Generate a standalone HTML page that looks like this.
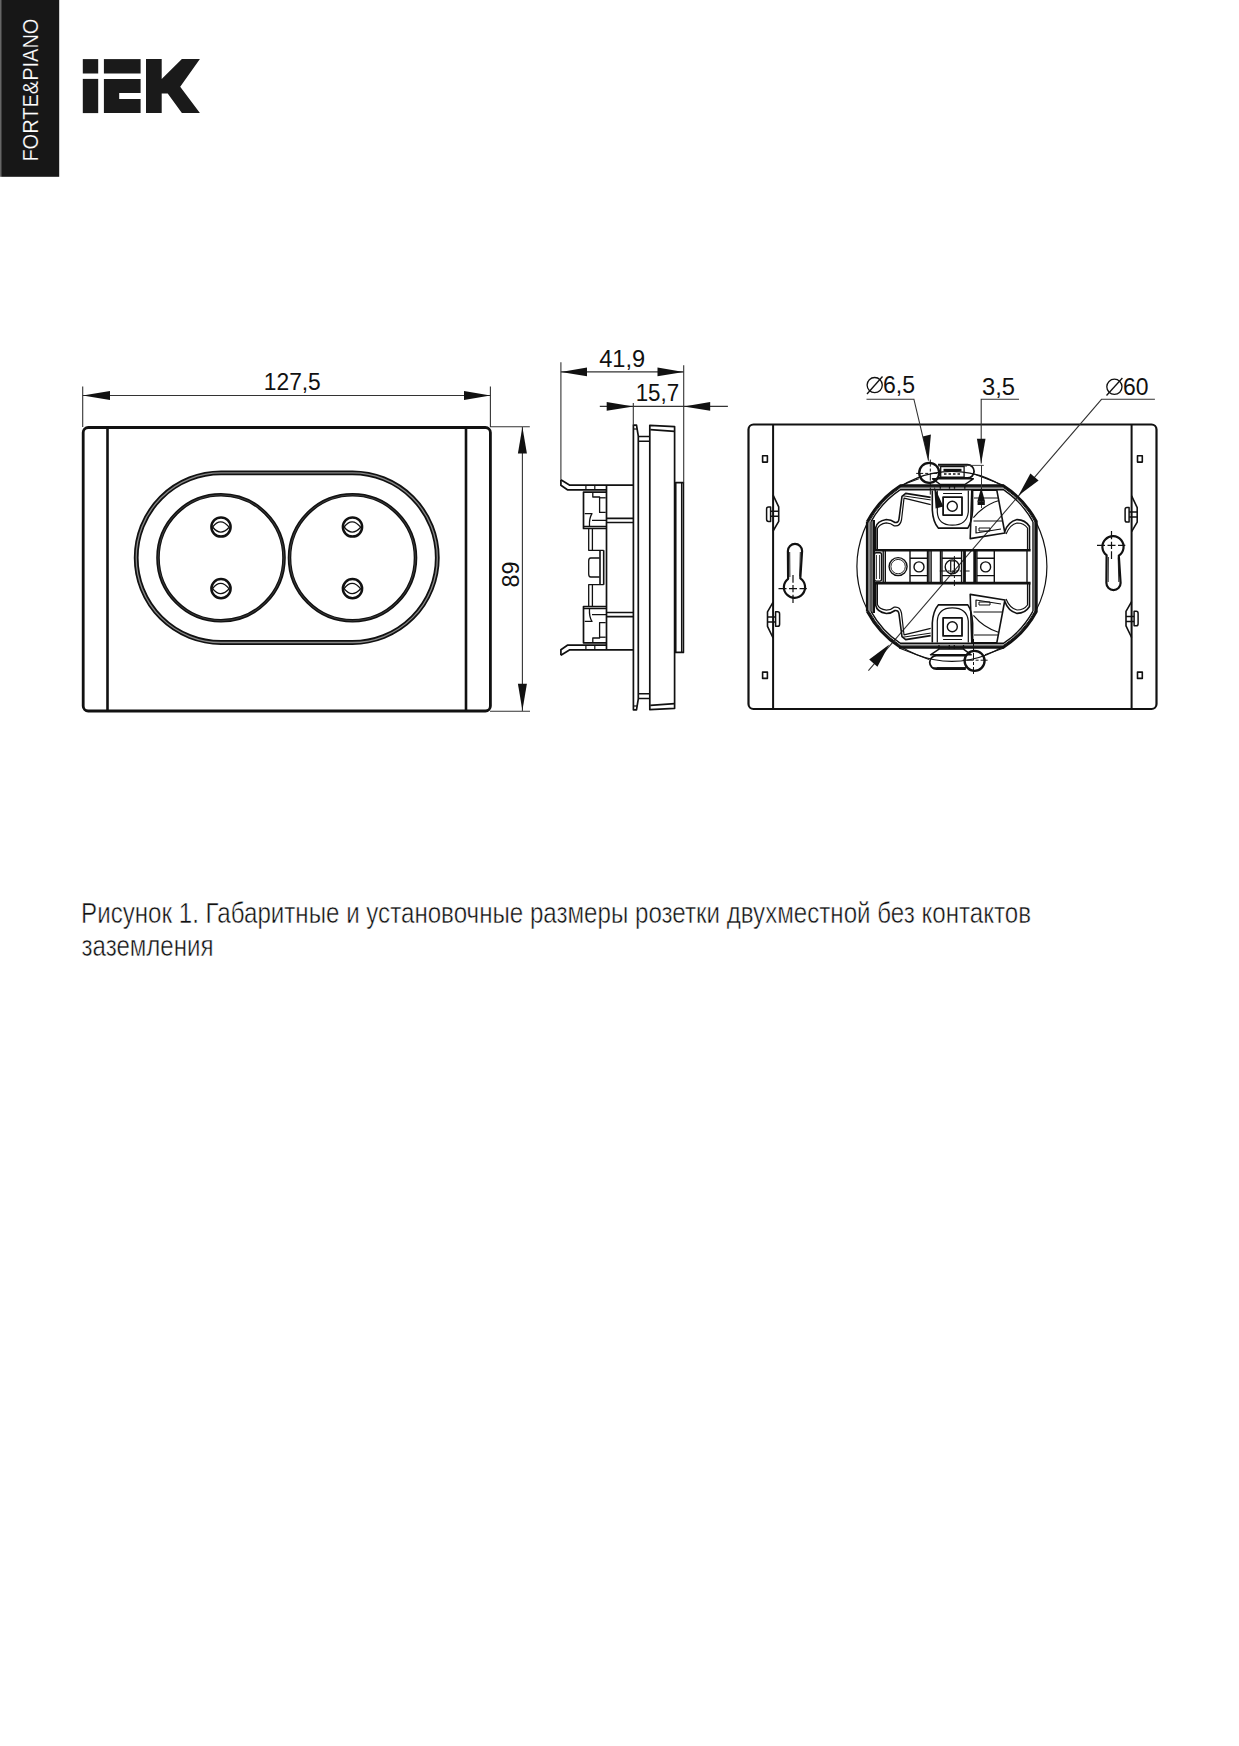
<!DOCTYPE html>
<html><head><meta charset="utf-8">
<style>
html,body{margin:0;padding:0;background:#fff;}
body{width:1239px;height:1746px;position:relative;overflow:hidden;font-family:"Liberation Sans",sans-serif;}
svg{position:absolute;left:0;top:0;}
</style></head><body>
<svg width="1239" height="1746" viewBox="0 0 1239 1746" font-family="Liberation Sans, sans-serif">
<!-- header -->
<rect x="0" y="0" width="1.2" height="176.8" fill="#666"/>
<rect x="1.2" y="0" width="58" height="176.8" fill="#171717"/>
<text transform="translate(38.2,161.6) rotate(-90)" font-size="21.8" fill="#fff" stroke="#171717" stroke-width="0.2" textLength="143" lengthAdjust="spacingAndGlyphs">FORTE&amp;PIANO</text>
<g fill="#1a1a1a">
<rect x="82.8" y="59.1" width="15.4" height="14.4"/>
<rect x="82.8" y="78.9" width="15.4" height="34.2"/>
<rect x="103.9" y="59.1" width="36.7" height="14.4"/>
<path d="M103.9,78.9H140.6V93H119.2V99H140.6V113.1H103.9Z"/>
<path d="M146,59.1H161.7V78.9L181.9,59.1H199.9L180.2,86.8L199.9,113.1H181.9L167.7,93.6H161.7V113.1H146Z"/>
</g>

<!-- FRONT VIEW -->
<g id="front" fill="none" stroke="#111">
<rect x="83.2" y="427.5" width="407.2" height="283.5" rx="5" stroke-width="2.8"/>
<line x1="107.5" y1="427.5" x2="107.5" y2="711" stroke-width="2.6"/>
<line x1="466" y1="427.5" x2="466" y2="711" stroke-width="2.6"/>
<path d="M221,472.9H352.5A84.8,84.8 0 0 1 352.5,642.5H221A84.8,84.8 0 0 1 221,472.9Z" stroke-width="4.8"/>
<path d="M221,472.9H352.5A84.8,84.8 0 0 1 352.5,642.5H221A84.8,84.8 0 0 1 221,472.9Z" stroke-width="1.3" stroke="#888"/>
<circle cx="221" cy="557.8" r="63" stroke-width="3.6"/>
<circle cx="352.5" cy="557.8" r="63" stroke-width="3.6"/>
<circle cx="221" cy="557.8" r="63" stroke-width="0.6" stroke="#555"/>
<circle cx="352.5" cy="557.8" r="63" stroke-width="0.6" stroke="#555"/>
<g id="pin">
<circle cx="221" cy="527" r="9.6" stroke-width="2.5"/>
<path d="M212.6,527Q220.5,516.5 229.2,527.2Q220.5,537 212.6,527Z" stroke-width="1.3"/>
</g>
<use href="#pin" transform="translate(0,61.6)"/>
<use href="#pin" transform="translate(131.5,0)"/>
<use href="#pin" transform="translate(131.5,61.6)"/>
</g>
<!-- front dims -->
<g stroke="#333" stroke-width="1.1" fill="none">
<line x1="82.7" y1="386.6" x2="82.7" y2="427"/>
<line x1="490.4" y1="386.5" x2="490.4" y2="427"/>
<line x1="82.7" y1="395.5" x2="490.4" y2="395.5"/>
<line x1="490" y1="426.8" x2="529.8" y2="426.8"/>
<line x1="490" y1="711.3" x2="530" y2="711.3"/>
<line x1="522.4" y1="427" x2="522.4" y2="711"/>
</g>
<g fill="#111">
<path d="M82.7,395.5L110,391.1V399.9Z"/>
<path d="M490.4,395.5L464,391.1V399.9Z"/>
<path d="M522.4,427L517.9,453.6H526.9Z"/>
<path d="M522.4,710.5L517.9,683.7H526.9Z"/>
<text x="263.8" y="389.8" font-size="23" textLength="57" lengthAdjust="spacingAndGlyphs">127,5</text>
<text transform="translate(519.2,587.6) rotate(-90)" font-size="23.5" textLength="26" lengthAdjust="spacingAndGlyphs">89</text>
</g>


<!-- SIDE VIEW -->
<g id="side" fill="none" stroke="#111" stroke-width="1.7" stroke-linejoin="round">
<g id="sideTop">
<path d="M560.9,479.7L569.8,485.2H633.4"/>
<path d="M560.9,479.7V485.3L567.4,489.8H606.5"/>
<path d="M585.9,485.3V489.8M594.8,485.3V489.8" stroke-width="1.2"/>
<path d="M606.5,518.4H633.4M606.5,522.5H633.4"/>
<path d="M606.5,492.2H583.5V528.5H606.5"/>
<path d="M592.8,492.2V497H599.6V512.4H605.7" stroke-width="1.3"/>
<path d="M599.6,497.8H605.7" stroke-width="1.3"/>
<path d="M584.7,513.6H592Q589,518 589.5,526.5" stroke-width="1.3"/>
<path d="M592,520.4H606.5M583.5,526.5H606.5" stroke-width="1.3"/>
<path d="M588.7,528.5V550.3H603.7M592.4,528.5V550.3" stroke-width="1.3"/>
<path d="M633.4,429H637" stroke-width="1.2"/>
<path d="M638.3,436.5H649.8M638.3,441.2H649.8" stroke-width="1.5"/>
<path d="M650.3,429.6L674.6,431.4"/>
</g>
<use href="#sideTop" transform="translate(0,1135) scale(1,-1)"/>
<path d="M606.5,485.3V649.7"/>
<path d="M600,550.3V584.7M603.7,550.3V584.7" stroke-width="1.6"/>
<path d="M599.6,558H590.7Q588.7,558 588.7,561V574Q588.7,577 590.7,577H599.6" stroke-width="1.3"/>
<path d="M633.4,709.8V425.2H636.5L638.3,436.1V698.9L636.5,709.8Z"/>
<path d="M649.8,709.7V425.3L674.6,426.6V708.4Z"/>
<path d="M675.7,652.4V482.6H683.4V652.4Z"/>
<path d="M681.6,482.6V652.4" stroke-width="1.3"/>

</g>
<g stroke="#333" stroke-width="1.1" fill="none">
<line x1="560.9" y1="362.2" x2="560.9" y2="479.7"/>
<line x1="683.7" y1="365.3" x2="683.7" y2="482.6"/>
<line x1="633.3" y1="402.9" x2="633.3" y2="425.2"/>
<line x1="560.9" y1="371.9" x2="683.7" y2="371.9"/>
<line x1="599.8" y1="406.4" x2="727.9" y2="406.4"/>
</g>
<g fill="#111">
<path d="M560.9,371.9L587,367.5V376.3Z"/>
<path d="M683.7,371.9L657.5,367.5V376.3Z"/>
<path d="M633.4,406.4L606.7,402V410.8Z"/>
<path d="M683.7,406.4L710.2,402V410.8Z"/>
<text x="599.2" y="366.8" font-size="23" textLength="46" lengthAdjust="spacingAndGlyphs">41,9</text>
<text x="635.7" y="400.6" font-size="23" textLength="43.5" lengthAdjust="spacingAndGlyphs">15,7</text>
</g>


<!-- REAR VIEW -->
<g id="rear" fill="none" stroke="#111" stroke-width="2" stroke-linejoin="round">
<rect x="748.5" y="424.5" width="408" height="284.5" rx="5" stroke-width="2.2"/>
<path d="M773.1,424.5V709M1131.6,424.5V709"/>
<g stroke-width="1.6">
<rect x="762.6" y="455.8" width="4.8" height="6.3"/>
<rect x="762.6" y="672.1" width="4.8" height="6.3"/>
<rect x="1137.5" y="455.8" width="4.8" height="6.3"/>
<rect x="1137.5" y="672.1" width="4.8" height="6.3"/>
</g>
<g id="clipUL" stroke-width="1.6">
<path d="M773.1,495.2L778.7,506.9V521.4L773.1,531"/>
<path d="M770.6,511.2H778.7M770.6,516.2H778.7" stroke-width="1.5"/>
<path d="M770.6,506.9H768.5Q766.6,506.9 766.6,509V519.3Q766.6,521.4 768.5,521.4H770.6V506.9Z" stroke-width="1.5"/>
</g>
<use href="#clipUL" transform="translate(358.5,0.7)"/>
<use href="#clipUL" transform="rotate(180,773.1,566.6)"/>
<use href="#clipUL" transform="translate(358.5,-0.5) rotate(180,773.1,566.6)"/>
<!-- keyholes -->
<g id="keyR">
<path d="M1106.6,555.2A10.6,10.6 0 1 1 1118.8,555.6L1120.6,583A7.1,7.1 0 0 1 1106.4,583Z" stroke-width="2.2"/>
<path d="M1108.4,557L1108.2,582M1118.2,557.5L1118.8,582" stroke-width="0.9"/>
<path d="M1097,545.3H1105M1107.5,545.3H1115.5M1118,545.3H1125.3M1111.5,531V539.2M1111.5,541.8V549M1111.5,551.2V559.1" stroke-width="1.2"/>
</g>
<use href="#keyR" transform="translate(-318.5,1134) scale(1,-1)"/>
<circle cx="951.9" cy="566.4" r="95" stroke-width="1.2"/>
</g>
<g stroke="#333" stroke-width="1.1" fill="none">
<path d="M866.5,399.2H913.9L928.5,460.7"/>
<path d="M1019,399.3H981.2V463.4"/>
<path d="M1154.9,399.3H1101.5L868.4,670.7"/>
</g>
<g fill="#111">
<path d="M928.5,460.7L922.8,436.6L930.9,434.6Z"/>
<path d="M981.2,463.4L976.9,438.8H985.5Z"/>
<path d="M1018.5,495.6L1030.4,473.5L1038.6,480.6Z"/>
<path d="M889.3,644.6L877.4,666.7L869.2,659.6Z" transform="translate(0,0)"/>
<text x="883" y="393.4" font-size="23" textLength="32" lengthAdjust="spacingAndGlyphs">6,5</text>
<text x="982" y="395.1" font-size="23" textLength="33" lengthAdjust="spacingAndGlyphs">3,5</text>
<text x="1123" y="394.7" font-size="23" textLength="25.5" lengthAdjust="spacingAndGlyphs">60</text>
</g>
<g fill="none" stroke="#111" stroke-width="1.3">
<circle cx="874.7" cy="385.1" r="7.6"/><line x1="867" y1="394" x2="882.5" y2="376.5"/>
<circle cx="1114.4" cy="386.8" r="7.6"/><line x1="1106.5" y1="395.5" x2="1122.4" y2="378"/>
</g>


<!-- REAR CENTER -->
<g id="rc" fill="none" stroke="#111" stroke-linejoin="round">
<g id="rcTop">
<!-- housing band -->
<path d="M899.9,485.7H1003.9A96,96 0 0 1 1036.5,521" stroke-width="2.2"/>
<path d="M900,489.8H1003.8A92.5,92.5 0 0 1 1033,521.9" stroke-width="1.4"/>
<path d="M1004,487.9A94.2,94.2 0 0 1 1035,522" stroke-width="1"/>
<path d="M1003.9,485.7H899.9A96,96 0 0 0 867,521.6" stroke-width="2.2"/>
<path d="M900,489.8A92.5,92.5 0 0 0 871,521.6" stroke-width="1.4"/>
<path d="M899.8,487.9H1004M899.8,487.9A94.2,94.2 0 0 0 869,521.7" stroke-width="1"/>
<!-- left wave -->
<path d="M875.8,549.5V527.5Q877,521 886.3,519.5Q891,519.5 895,522.5Q898.5,523 899,519L902,496.4L905.7,493.4L930.7,497.4" stroke-width="1.6"/>
<path d="M877.4,549.5V528.5Q879,524 886.3,522.8Q891,523 894,525.8Q900,527 901.5,520L904,498.2L930.7,504.7" stroke-width="1.2"/>
<path d="M903,495.8L930.7,499.9" stroke-width="1"/>
<!-- right wave -->
<path d="M1004.9,531.5Q1008,522 1017,519.6Q1025,519.5 1029.5,526.5V549.5" stroke-width="1.6"/>
<path d="M1006,534Q1010,524.5 1017,523Q1024,523 1027.5,528V549.5" stroke-width="1.2"/>
<!-- U holder -->
<path d="M932.3,490.4V510Q933,522 938.3,528.1H967.8Q972,522 972.6,510V490.4" stroke-width="1.6"/>
<path d="M937.3,490.4V512Q938,525.2 952.3,525.2Q967,525.2 968.3,512V490.4" stroke-width="1.2"/>
<rect x="943.1" y="497.1" width="18.9" height="18" stroke-width="1.8"/>
<path d="M943.1,493.5H962" stroke-width="1"/>
<circle cx="952.3" cy="506.3" r="5" stroke-width="1.4"/>
<!-- slanted contact -->
<path d="M971.8,490.2H996.8L1004.9,533L970.2,538.6Z" stroke-width="1.6"/>
<path d="M973.4,517.6Q984,505 999,500.5M973.5,521H1002M974,498H998M976,526V533L1001,529" stroke-width="1.2"/>
<path d="M979,528H990V531H979Z" stroke-width="1"/>
</g>
<use href="#rcTop" transform="translate(0,1133) scale(1,-1)"/>
<path d="M1036.5,521V612M867,521.6V611.4" stroke-width="2.2"/>
<path d="M1033,521.9V611.1M871,521.6V611.4" stroke-width="1.4"/>
<path d="M1035,522V611M869,521.7V611.3" stroke-width="1"/>
<path d="M873.7,520V613M1036,520V613" stroke-width="2.6"/>

<g id="rcTab">
<path d="M938,464.6H967.4A6.7,6.7 0 0 1 967.4,478H938" stroke-width="1.8"/>
<path d="M938,466H967" stroke-width="0.9"/>
<path d="M932.6,478.8H973.3L964.8,484.5H940.3Z" stroke-width="1.5"/>
<path d="M940.3,484.5V488.7M964.8,484.5V488.7M949.5,484.5V488.7M954.5,484.5V488.7" stroke-width="1.3"/>
<path d="M918.8,478.8L900,485.7M974.8,474.2L1004.7,485.7" stroke-width="1.1"/>
<circle cx="929.2" cy="472.8" r="10" stroke-width="2.3"/>
<path d="M916.2,473.4H941M930.3,459.6V494.9" stroke-width="1" stroke-dasharray="7,2,3,2"/>
</g>
<g stroke-width="1.3">
<rect x="940.7" y="466.5" width="23.4" height="10.7"/>
<path d="M943.5,470H961.5" stroke-width="2.4"/>
<path d="M944,474H961" stroke-width="1.6" stroke-dasharray="2.5,2"/>
</g>
<use href="#rcTab" transform="translate(0,0.8) rotate(180,951.9,566.4)"/>
<path d="M932,667.8H966" stroke-width="1"/>
<!-- strip -->
<path d="M873,550.2H1030.6" stroke-width="2.6"/>
<path d="M873,583.1H1030.6" stroke-width="2.6"/>
<g stroke-width="1.4">
<rect x="874.5" y="552.8" width="7" height="28.3" rx="1.5"/>
<path d="M876.5,555V579M879.5,555V579" stroke-width="0.8"/>
<path d="M883.2,550.2V583.1M885.3,550.2V583.1"/>
<circle cx="898.1" cy="566.6" r="9"/>
<circle cx="898.1" cy="566.6" r="7.2" stroke-width="0.9"/>
<rect x="910" y="550.2" width="17.5" height="32.9"/>
<path d="M910,558.2H927.5M910,575.6H927.5"/>
<circle cx="919" cy="566.9" r="5"/>
<path d="M928.9,550.2V583.1M931.1,550.2V583.1M940.5,550.2V583.1"/>
<rect x="942" y="550.2" width="19.6" height="32.9"/>
<path d="M942,558.2H961.6M942,575.6H961.6"/>
<circle cx="952.2" cy="566.9" r="7"/>
<rect x="950.7" y="561" width="3.7" height="11" stroke-width="1.2"/>
<path d="M963.8,550.2V583.1M965.2,550.2V583.1M974,550.2V583.1M975.4,550.2V583.1"/>
<rect x="976.9" y="550.2" width="17.4" height="32.9"/>
<path d="M976.9,558.2H994.3M976.9,575.6H994.3"/>
<circle cx="985.6" cy="566.9" r="5"/>
<path d="M1027,550.2V583.1"/>
</g>
<path d="M939.8,571H969.6M954.4,556V586.5" stroke-width="1" stroke-dasharray="6,2,2,2"/>
<path d="M981.5,465.4V508" stroke="#333" stroke-width="1"/>
<path d="M938.7,465.4H983.8" stroke="#333" stroke-width="0.9"/>
</g>
<g fill="#111">
<path d="M981.2,487.5L977.3,501.8H985.1Z"/>
<rect x="977.6" y="501.5" width="7.2" height="3.5"/>
<path d="M934.2,486.5L943.4,506.5L935.6,508.4Z"/>
</g>

<!-- caption -->
<text x="81.1" y="922.6" font-size="29" fill="#111" stroke="#fff" stroke-width="0.5" textLength="950" lengthAdjust="spacingAndGlyphs">Рисунок 1. Габаритные и установочные размеры розетки двухместной без контактов</text>
<text x="81.5" y="956" font-size="29" fill="#111" stroke="#fff" stroke-width="0.5" textLength="132" lengthAdjust="spacingAndGlyphs">заземления</text>
</svg>
</body></html>
